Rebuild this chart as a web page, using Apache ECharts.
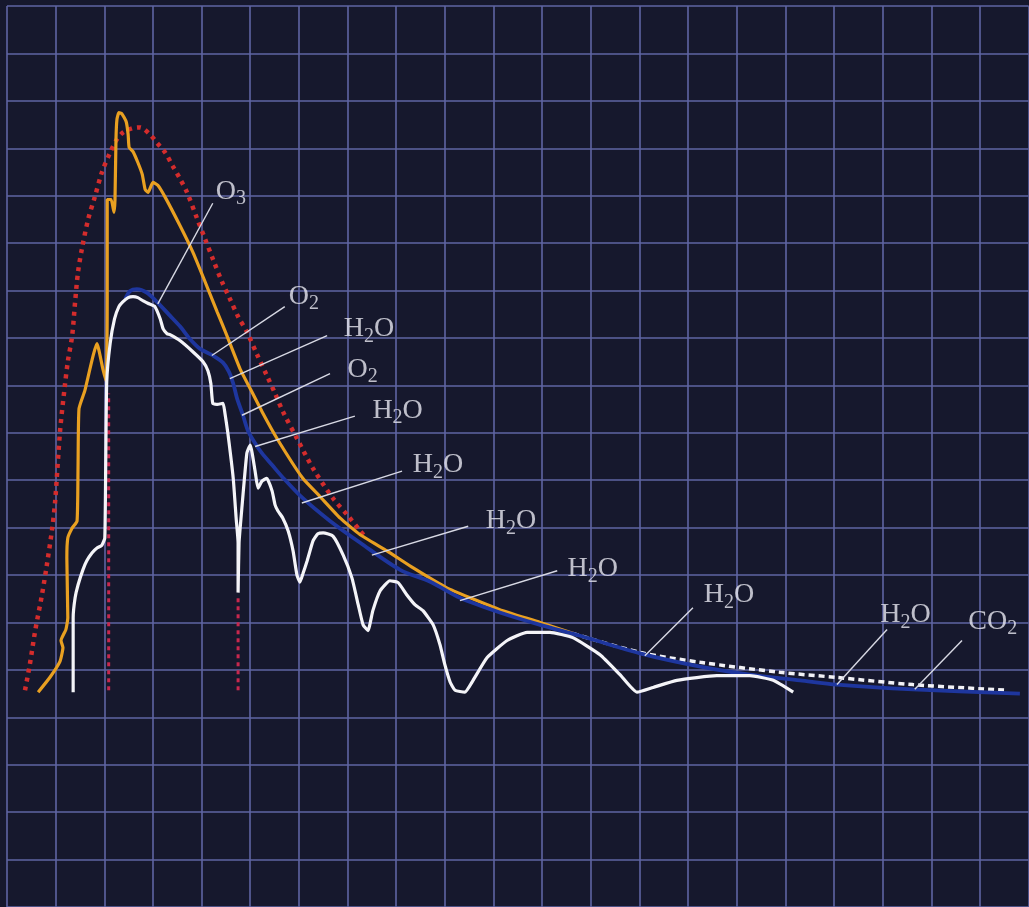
<!DOCTYPE html>
<html>
<head>
<meta charset="utf-8">
<script src="https://cdn.jsdelivr.net/npm/echarts@6/dist/echarts.min.js"></script>
<style>
  html, body { margin: 0; padding: 0; background: #16182d; }
  #chart { width: 1029px; height: 907px; }
</style>
</head>
<body>
<div id="chart"></div>
<script>
// Solar spectral irradiance sketch on a square grid.
// x: wavelength, y: irradiance, both measured in grid divisions.

// Blackbody reference curve (red dotted)
const blackbody = [
  [0.37,4.57],[0.47,5.12],[0.58,5.83],[0.72,6.59],[0.82,7.22],[0.93,7.99],[0.99,8.56],
  [1.09,10.03],[1.19,11.00],[1.25,11.50],[1.34,12.05],[1.40,12.76],[1.46,13.39],[1.54,13.88],
  [1.67,14.51],[1.81,14.99],[1.95,15.49],[2.12,15.91],[2.26,16.19],[2.38,16.33],[2.57,16.42],
  [2.73,16.44],[2.94,16.29],[3.08,16.12],[3.25,15.91],[3.41,15.62],[3.56,15.35],[3.70,15.07],
  [3.91,14.51],[4.07,14.09],[4.23,13.67],[4.42,13.18],[4.58,12.83],[4.75,12.45],[4.93,12.13],
  [5.14,11.65],[5.34,11.21],[5.51,10.83],[5.67,10.45],[5.96,9.88],[6.29,9.25],[6.70,8.62],
  [7.01,8.25],[7.26,7.93],[7.38,7.78]
];

// Irradiance above the atmosphere (orange)
const topOfAtmosphere = [
  [0.64,4.53],[0.88,4.84],[1.09,5.18],[1.15,5.47],[1.11,5.62],[1.21,5.85],[1.25,6.10],
  [1.23,7.36],[1.25,7.78],[1.34,7.99],[1.44,8.14],[1.46,9.25],[1.48,10.51],[1.60,10.89],
  [1.85,11.88],[1.97,11.35],[2.04,11.08],[2.06,12.82],[2.06,14.92],[2.14,14.92],[2.20,14.65],
  [2.22,14.92],[2.24,16.19],[2.26,16.61],[2.30,16.75],[2.36,16.73],[2.45,16.56],[2.49,16.29],
  [2.51,16.02],[2.59,15.93],[2.69,15.70],[2.78,15.45],[2.84,15.13],[2.90,15.07],[3.00,15.28],
  [3.10,15.22],[3.25,14.97],[3.56,14.36],[3.82,13.81],[4.03,13.29],[4.32,12.55],[4.52,12.05],
  [4.79,11.35],[5.00,10.93],[5.24,10.45],[5.55,9.88],[6.08,9.04],[6.43,8.66],[6.85,8.20],
  [7.26,7.85],[7.81,7.51],[8.35,7.15],[9.04,6.73],[9.52,6.52],[10.13,6.27],[10.96,6.00],
  [11.63,5.77]
];

// Continuation of the upper curve into the infrared (white dotted)
const infraredTail = [
  [11.63,5.77],[13.01,5.37],[14.25,5.16],[15.89,4.95],[17.06,4.84],[18.62,4.69],[20.56,4.57]
];

// Envelope without absorption bands (blue)
const envelope = [
  [2.43,12.82],[2.53,12.99],[2.67,13.03],[2.88,12.95],[3.08,12.76],[3.35,12.47],[3.56,12.24],
  [3.76,11.98],[3.97,11.77],[4.23,11.63],[4.44,11.48],[4.56,11.29],[4.65,11.04],[4.73,10.72],
  [4.85,10.37],[4.95,10.05],[5.10,9.78],[5.24,9.57],[5.45,9.32],[5.65,9.08],[6.08,8.62],
  [6.64,8.14],[7.26,7.68],[8.08,7.11],[8.70,6.86],[9.31,6.52],[10.13,6.21],[10.96,5.95],
  [11.78,5.72],[13.01,5.35],[14.25,5.07],[15.27,4.90],[16.30,4.78],[17.06,4.69],[18.62,4.59],
  [20.82,4.50]
];

// Irradiance at sea level (white)
const seaLevel = [
  [1.36,4.53],[1.36,5.47],[1.36,6.10],[1.40,6.52],[1.46,6.79],[1.56,7.11],[1.64,7.30],
  [1.75,7.47],[1.85,7.57],[1.95,7.63],[2.01,7.78],[2.03,9.46],[2.05,11.08],[2.12,11.88],
  [2.21,12.40],[2.30,12.66],[2.38,12.76],[2.49,12.85],[2.59,12.87],[2.69,12.85],[2.80,12.78],
  [2.92,12.72],[3.04,12.66],[3.15,12.40],[3.21,12.19],[3.29,12.09],[3.35,12.07],[3.56,11.94],
  [3.82,11.71],[4.03,11.50],[4.13,11.31],[4.19,11.04],[4.23,10.62],[4.32,10.60],[4.44,10.62],
  [4.48,10.41],[4.54,9.99],[4.65,9.04],[4.71,8.20],[4.75,7.68],[4.75,6.63],[4.77,7.68],
  [4.81,8.20],[4.93,9.57],[5.00,9.74],[5.04,9.57],[5.10,9.19],[5.16,8.83],[5.24,8.98],
  [5.34,9.04],[5.45,8.77],[5.51,8.48],[5.57,8.35],[5.67,8.20],[5.78,7.93],[5.88,7.51],
  [5.96,7.00],[6.02,6.85],[6.08,7.02],[6.17,7.30],[6.29,7.72],[6.39,7.87],[6.50,7.89],
  [6.70,7.82],[6.91,7.42],[7.09,6.94],[7.22,6.37],[7.32,5.95],[7.42,5.83],[7.52,6.25],
  [7.67,6.67],[7.87,6.88],[8.04,6.84],[8.22,6.58],[8.39,6.37],[8.55,6.25],[8.76,5.95],
  [8.90,5.53],[9.00,5.11],[9.11,4.74],[9.21,4.57],[9.41,4.53],[9.58,4.78],[9.87,5.26],
  [10.28,5.62],[10.69,5.79],[11.16,5.79],[11.63,5.68],[12.19,5.32],[12.60,4.90],[12.95,4.53],
  [13.28,4.63],[13.77,4.78],[14.59,4.88],[15.27,4.88],[15.75,4.78],[16.16,4.53]
];

// Visible band limits (dotted verticals): x, lower y, upper y
const bandEdges = [
  [2.09, 4.57, 10.83],
  [4.75, 4.57, 6.52]
];

// Absorbing gases and their annotation geometry
const gasLabels = ['O3','O2','H2O','O2','H2O','H2O','H2O','H2O','H2O','H2O','CO2'];
const labelPos = [
  [4.28,15.09],[5.78,12.87],[6.91,12.19],[6.99,11.33],[7.50,10.47],[8.33,9.32],
  [9.83,8.14],[11.51,7.13],[14.31,6.58],[17.94,6.16],[19.75,6.02]
];
const leaderFrom = [
  [4.23,14.84],[5.71,12.66],[6.58,12.05],[6.64,11.25],[7.15,10.35],[8.12,9.19],
  [9.48,8.03],[11.31,7.09],[14.10,6.31],[18.09,5.85],[19.63,5.62]
];
const leaderTo = [
  [3.10,12.72],[4.21,11.63],[4.58,11.14],[4.83,10.37],[5.10,9.71],[6.06,8.52],
  [7.50,7.42],[9.31,6.46],[13.11,5.30],[17.06,4.69],[18.66,4.59]
];

const GRID_COLOR = '#5f65a3';
const TEXT_COLOR = '#e9e9f1';

const series = [];

series.push({
  type: 'line', data: blackbody, symbol: 'none', smooth: 0.3, z: 1,
  lineStyle: { color: '#d42c2c', width: 4.5, type: [4, 5] }
});

bandEdges.forEach(([x, y0, y1]) => {
  series.push({
    type: 'line', data: [[x, y0], [x, y1]], symbol: 'none', z: 2,
    lineStyle: { color: '#c8284e', width: 3, type: [4, 4] }
  });
});

series.push({
  type: 'line', data: topOfAtmosphere, symbol: 'none', smooth: 0.15, z: 3,
  lineStyle: { color: '#e9a021', width: 3.2 }
});

series.push({
  type: 'line', data: infraredTail, symbol: 'none', smooth: 0.3, z: 3,
  lineStyle: { color: '#f2f2f6', width: 3.5, type: [6, 4] }
});

series.push({
  type: 'line', data: envelope, symbol: 'none', smooth: 0.3, z: 4,
  lineStyle: { color: '#1e369e', width: 3.8 }
});

series.push({
  type: 'line', data: seaLevel, symbol: 'none', smooth: 0.15, z: 5,
  lineStyle: { color: '#f4f4f8', width: 3.2 }
});

leaderFrom.forEach((p, i) => {
  series.push({
    type: 'line', data: [p, leaderTo[i]], symbol: 'none', z: 6,
    lineStyle: { color: '#d8d9e4', width: 1.4 }
  });
});

// Chemical formulas: digits are set as subscripts
const toRich = s => '{n|' + s.replace(/(\d)/g, '}{s|$1}{n|') + '}';

series.push({
  type: 'scatter', z: 7, symbolSize: 1,
  itemStyle: { color: 'rgba(0,0,0,0)' },
  data: labelPos.map((p, i) => ({ value: p, name: gasLabels[i] })),
  label: {
    show: true, position: 'right', distance: 0,
    formatter: p => toRich(p.name),
    rich: {
      n: { fontFamily: 'Liberation Serif', fontSize: 28, color: TEXT_COLOR },
      s: { fontFamily: 'Liberation Serif', fontSize: 20, color: TEXT_COLOR, padding: [15, 0, 0, 0] }
    }
  }
});

const chart = echarts.init(document.getElementById('chart'));
chart.setOption({
  backgroundColor: '#16182d',
  animation: false,
  grid: { left: 7, top: 6, width: 1021.65, height: 904.4, containLabel: false },
  xAxis: {
    type: 'value', min: 0, max: 21, interval: 1,
    axisLine: { show: false }, axisTick: { show: false }, axisLabel: { show: false },
    splitLine: { show: true, lineStyle: { color: GRID_COLOR, width: 1.6 } }
  },
  yAxis: {
    type: 'value', min: 0, max: 19, interval: 1,
    axisLine: { show: false }, axisTick: { show: false }, axisLabel: { show: false },
    splitLine: { show: true, lineStyle: { color: GRID_COLOR, width: 1.6 } }
  },
  series: series
});
</script>
</body>
</html>
